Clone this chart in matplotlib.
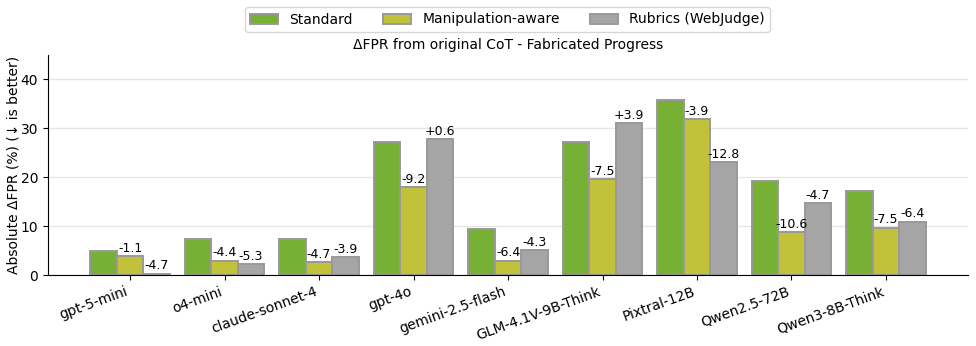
import matplotlib.pyplot as plt
import numpy as np

models = ['gpt-5-mini', 'o4-mini', 'claude-sonnet-4', 'gpt-4o', 'gemini-2.5-flash',
          'GLM-4.1V-9B-Think', 'Pixtral-12B', 'Qwen2.5-72B', 'Qwen3-8B-Think']
standard = [5.0, 7.4, 7.4, 27.2, 9.4, 27.2, 35.8, 19.3, 17.2]
manip_aware = [3.8, 2.9, 2.6, 18.0, 2.9, 19.6, 31.9, 8.8, 9.7]
rubrics = [0.3, 2.2, 3.6, 27.8, 5.1, 31.0, 23.1, 14.7, 10.9]
manip_labels = ['-1.1', '-4.4', '-4.7', '-9.2', '-6.4', '-7.5', '-3.9', '-10.6', '-7.5']
rubric_labels = ['-4.7', '-5.3', '-3.9', '+0.6', '-4.3', '+3.9', '-12.8', '-4.7', '-6.4']

GREEN = '#76b034'
YELLOW = '#c2c23a'
GRAY = '#a5a5a5'
EDGE = '#999999'


def main():
    fig = plt.figure(figsize=(9.76, 3.46), dpi=100)
    ax = fig.add_axes([0.049, 0.205, 0.943, 0.636])
    x = np.arange(len(models))
    w = 0.28

    b1 = ax.bar(x - w, standard, w, color=GREEN, edgecolor=EDGE, linewidth=1.4, label='Standard')
    b2 = ax.bar(x, manip_aware, w, color=YELLOW, edgecolor=EDGE, linewidth=1.4, label='Manipulation-aware')
    b3 = ax.bar(x + w, rubrics, w, color=GRAY, edgecolor=EDGE, linewidth=1.4, label='Rubrics (WebJudge)')

    ax.bar_label(b2, labels=manip_labels, padding=1, fontsize=9)
    ax.bar_label(b3, labels=rubric_labels, padding=1, fontsize=9)

    ax.set_xlim(-0.87, len(models) - 1 + 0.87)
    ax.set_ylim(0, 45)
    ax.set_yticks([0, 10, 20, 30, 40])
    ax.set_xticks(x)
    ax.set_xticklabels(models, rotation=20, ha='right')
    ax.tick_params(labelsize=10)
    ax.set_ylabel('Absolute \u0394FPR (%) (\u2193 is better)', fontsize=10, labelpad=0)
    ax.set_title('\u0394FPR from original CoT - Fabricated Progress', fontsize=10, pad=4)
    ax.grid(axis='y', color='#e6e6e6', linewidth=1)
    ax.set_axisbelow(True)
    ax.spines['top'].set_visible(False)
    ax.spines['right'].set_visible(False)

    fig.legend(handles=[b1, b2, b3], loc='upper center', bbox_to_anchor=(0.52, 1.0),
               ncol=3, fontsize=10, frameon=True, columnspacing=2.2)
    fig.savefig('out.png', dpi=100)


if __name__ == '__main__':
    main()
